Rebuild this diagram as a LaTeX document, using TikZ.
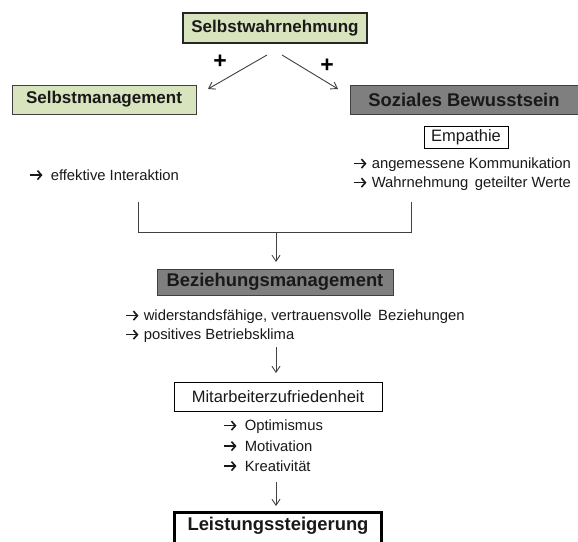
\documentclass[tikz,border=0pt]{standalone}
\usepackage{fontspec}
\setmainfont{Liberation Sans}
\usetikzlibrary{arrows.meta}
\definecolor{lgreen}{HTML}{D7E4BD}
\definecolor{mgray}{HTML}{7F7F7F}
\definecolor{dgray}{HTML}{404040}
\newcommand{\ar}{\tikz[baseline=-5.2pt,x=1pt,y=1pt]\draw[line width=1.6pt,black!90,-{Straight Barb[length=4pt,width=9pt,line width=1.6pt]}] (0,0) -- (12.5pt,0);\hspace{4.5pt}}
\tikzset{
  box/.style={draw=dgray, line width=1pt, rectangle, inner sep=0pt, align=center},
  greenbox/.style={box, fill=lgreen},
  graybox/.style={box, fill=mgray},
  whitebox/.style={box, draw=black, fill=white},
  titlebig/.style={font=\fontsize{18.4}{20}\selectfont\bfseries, text=black!90},
  titlemid/.style={font=\fontsize{17}{20}\selectfont\bfseries, text=black!90},
  regtext/.style={font=\fontsize{16.5}{19}\selectfont, text=black!90},
  smalltext/.style={font=\fontsize{14.8}{17}\selectfont, text=black!90, inner sep=0pt, anchor=west},
  plus/.style={font=\fontsize{23}{24}\selectfont\bfseries, text=black},
  conn/.style={draw=dgray, line width=0.9pt},
  arr/.style={conn, -{Straight Barb[length=6pt,width=8pt]}}
}
\begin{document}
\begin{tikzpicture}[x=1pt,y=-1pt]
\clip (0,0) rectangle (578,541);
\fill[white] (0,0) rectangle (578,541);

% boxes
\node[greenbox, draw=black!85, line width=2.6pt, minimum width=184pt, minimum height=30pt, titlemid] (sw) at (275,28) {Selbstwahrnehmung};
\node[greenbox, minimum width=184pt, minimum height=29pt, titlemid] (sm) at (104,99.5) {Selbstmanagement};
\node[graybox, minimum width=228pt, minimum height=29pt, titlebig] (sb) at (464,99.5) {Soziales Bewusstsein};
\node[whitebox, minimum width=84pt, minimum height=22pt, regtext] (em) at (466,137) {Empathie};
\node[graybox, minimum width=236pt, minimum height=26pt, titlebig] (bm) at (275,282) {Beziehungsmanagement};
\node[whitebox, minimum width=208pt, minimum height=29pt, regtext] (mz) at (278,396.5) {Mitarbeiterzufriedenheit};
\node[whitebox, line width=2.8pt, minimum width=207pt, minimum height=35pt, titlebig] (ls) at (278,530) {};
\node[titlebig] (lst) at (278,526) {Leistungssteigerung};

% plus signs
\node[plus] (p1) at (220,62) {+};
\node[plus] (p2) at (327,66) {+};

% text lists
\node[smalltext] (t1) at (29,175) {\ar\hspace{3pt}effektive Interaktion};
\node[smalltext] (t2) at (353,165) {\ar angemessene Kommunikation};
\node[smalltext] (t3) at (353,184) {\ar Wahrnehmung\, geteilter Werte};
\node[smalltext] (t4) at (125,317) {\ar widerstandsfähige, vertrauensvolle\, Beziehungen};
\node[smalltext] (t5) at (125,336) {\ar positives Betriebsklima};
\node[smalltext] (t6) at (223,427) {\ar\hspace{3pt}Optimismus};
\node[smalltext] (t7) at (223,446) {\ar\hspace{3pt}Motivation};
\node[smalltext] (t8) at (223,466) {\ar\hspace{3pt}Kreativität};

% connector coordinates
\coordinate (a1s) at (267,55);
\coordinate (a1e) at (208,89);
\coordinate (a2s) at (282,55);
\coordinate (a2e) at (338,89);
\coordinate (bl) at (138,202);
\coordinate (br) at (411,202);
\coordinate (bm1) at (276,232);
\coordinate (bm2) at (276,262);
\coordinate (c1) at (276,347);
\coordinate (c2) at (276,373);
\coordinate (d1) at (276,482);
\coordinate (d2) at (276,506);

\draw[arr] (a1s) -- (a1e);
\draw[arr] (a2s) -- (a2e);
\draw[conn] (bl) -- (bl |- bm1) -- (br |- bm1) -- (br);
\draw[arr] (bm1) -- (bm2);
\draw[arr] (c1) -- (c2);
\draw[arr] (d1) -- (d2);
\end{tikzpicture}
\end{document}
